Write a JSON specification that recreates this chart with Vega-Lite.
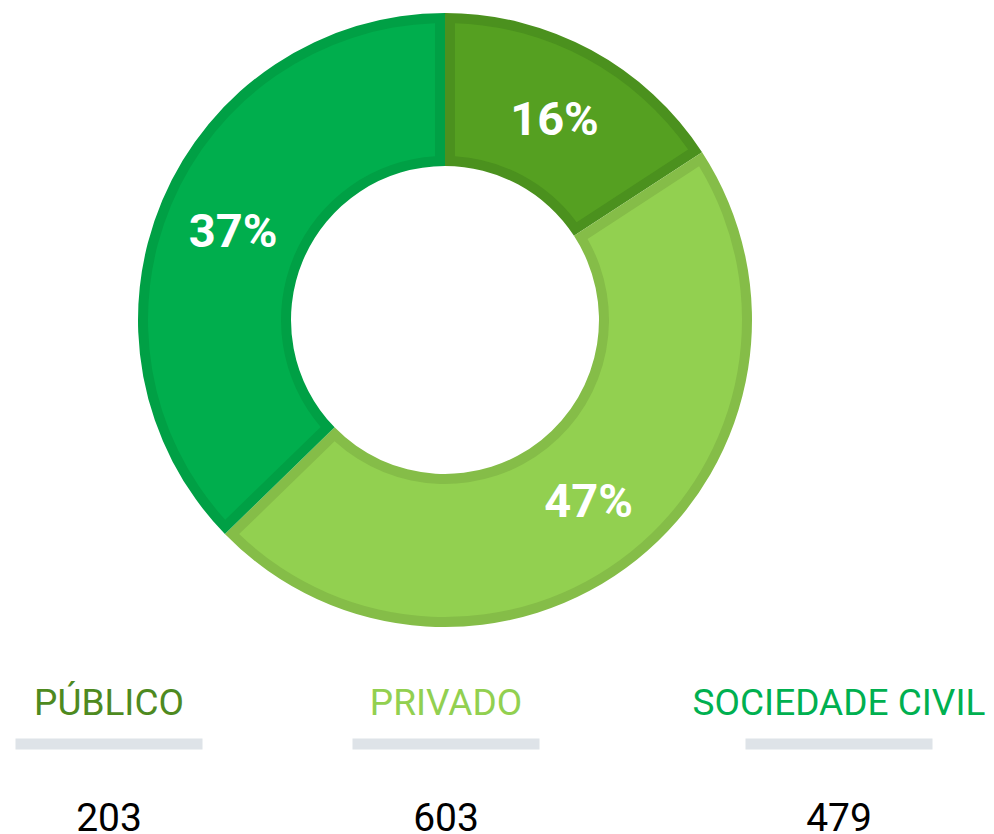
{
  "$schema": "https://vega.github.io/schema/vega-lite/v6.json",
  "padding": 0,
  "background": "white",
  "bounds": "flush",
  "spacing": 0,
  "config": {"view": {"stroke": null}},
  "data": {"values": [
    {"cat": "PÚBLICO", "value": 203, "pct": "16%", "ord": 1},
    {"cat": "PRIVADO", "value": 603, "pct": "47%", "ord": 2},
    {"cat": "SOCIEDADE CIVIL", "value": 479, "pct": "37%", "ord": 3}
  ]},
  "vconcat": [
    {
      "width": 890,
      "height": 640,
      "encoding": {
        "theta": {"field": "value", "type": "quantitative", "stack": true},
        "order": {"field": "ord", "type": "quantitative"}
      },
      "layer": [
        {
          "mark": {"type": "arc", "outerRadius": 307, "innerRadius": 154},
          "encoding": {
            "fill": {"field": "cat", "type": "nominal", "legend": null,
              "scale": {"domain": ["PÚBLICO", "PRIVADO", "SOCIEDADE CIVIL"], "range": ["#4B911E", "#85BD48", "#00A045"]}}
          }
        },
        {
          "mark": {"type": "arc", "outerRadius": 297, "innerRadius": 164, "padAngle": 0.059},
          "encoding": {
            "fill": {"field": "cat", "type": "nominal", "legend": null,
              "scale": {"domain": ["PÚBLICO", "PRIVADO", "SOCIEDADE CIVIL"], "range": ["#55A021", "#92D050", "#00AE4D"]}}
          }
        },
        {
          "mark": {"type": "text", "radius": 230, "font": "Roboto", "fontWeight": "bold", "fontSize": 47, "fill": "white", "baseline": "middle", "align": "center", "dy": 3},
          "encoding": {"text": {"field": "pct", "type": "nominal"}}
        }
      ],
      "resolve": {"scale": {"fill": "independent"}}
    },
    {
      "spacing": 0,
      "hconcat": [
        {
          "width": 218, "height": 208,
          "transform": [{"filter": "datum.cat === 'PÚBLICO'"}],
          "layer": [
            {"mark": {"type": "text", "font": "Roboto", "fontSize": 37, "baseline": "alphabetic", "align": "center", "dy": -29, "fill": "#4E8A1F"},
             "encoding": {"text": {"field": "cat", "type": "nominal"}}},
            {"mark": {"type": "point", "shape": "M-1,-0.0588L1,-0.0588L1,0.0588L-1,0.0588Z", "size": 34969, "filled": true, "color": "#DEE3E8", "opacity": 1},
             "encoding": {}},
            {"mark": {"type": "text", "font": "Roboto", "fontSize": 39, "baseline": "alphabetic", "align": "center", "dy": 87, "fill": "#000000"},
             "encoding": {"text": {"field": "value", "type": "quantitative"}}}
          ]
        },
        {
          "width": 456, "height": 208,
          "transform": [{"filter": "datum.cat === 'PRIVADO'"}],
          "layer": [
            {"mark": {"type": "text", "font": "Roboto", "fontSize": 37, "baseline": "alphabetic", "align": "center", "dy": -29, "fill": "#92D050"},
             "encoding": {"text": {"field": "cat", "type": "nominal"}}},
            {"mark": {"type": "point", "shape": "M-1,-0.0588L1,-0.0588L1,0.0588L-1,0.0588Z", "size": 34969, "filled": true, "color": "#DEE3E8", "opacity": 1},
             "encoding": {}},
            {"mark": {"type": "text", "font": "Roboto", "fontSize": 39, "baseline": "alphabetic", "align": "center", "dy": 87, "fill": "#000000"},
             "encoding": {"text": {"field": "value", "type": "quantitative"}}}
          ]
        },
        {
          "width": 330, "height": 208,
          "transform": [{"filter": "datum.cat === 'SOCIEDADE CIVIL'"}],
          "layer": [
            {"mark": {"type": "text", "font": "Roboto", "fontSize": 37, "baseline": "alphabetic", "align": "center", "dy": -29, "fill": "#00B050"},
             "encoding": {"text": {"field": "cat", "type": "nominal"}}},
            {"mark": {"type": "point", "shape": "M-1,-0.0588L1,-0.0588L1,0.0588L-1,0.0588Z", "size": 34969, "filled": true, "color": "#DEE3E8", "opacity": 1},
             "encoding": {}},
            {"mark": {"type": "text", "font": "Roboto", "fontSize": 39, "baseline": "alphabetic", "align": "center", "dy": 87, "fill": "#000000"},
             "encoding": {"text": {"field": "value", "type": "quantitative"}}}
          ]
        }
      ]
    }
  ]
}
